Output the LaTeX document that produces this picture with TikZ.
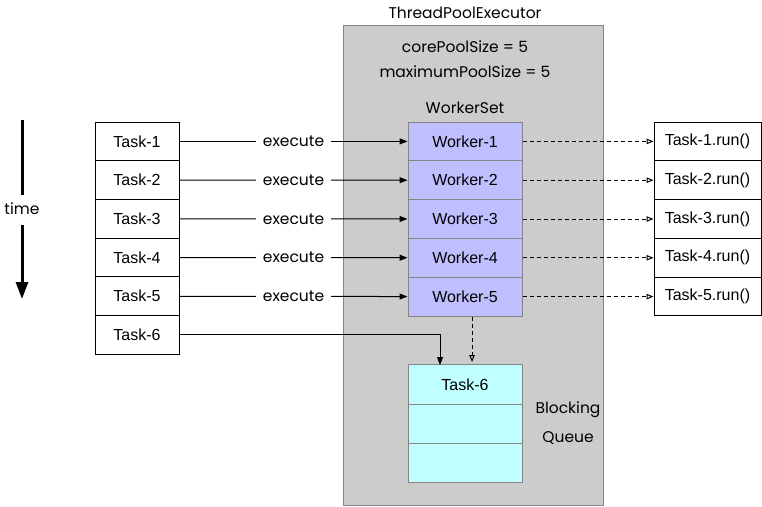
\documentclass[tikz,border=0pt]{standalone}
\usepackage{fontspec}
\setmainfont{Liberation Sans}
\newfontfamily\handfont{Poppins}
\usetikzlibrary{arrows.meta}
\definecolor{poolgray}{HTML}{CCCCCC}
\definecolor{edgegray}{HTML}{858585}
\definecolor{workerfill}{HTML}{BFBFFF}
\definecolor{queuefill}{HTML}{C0FFFF}
\tikzset{
  box/.style={draw=black, line width=1pt, fill=white, inner sep=0pt, minimum width=84pt, minimum height=38.7pt, font=\fontsize{16}{18}\selectfont},
  runbox/.style={box, minimum width=107pt},
  workerbox/.style={draw=edgegray, line width=1pt, fill=workerfill, inner sep=0pt, minimum width=114pt, minimum height=38.8pt, font=\fontsize{16}{18}\selectfont},
  queuebox/.style={workerbox, fill=queuefill, minimum height=39.3pt},
  hand/.style={inner sep=1pt, font=\handfont\fontsize{15.5}{18}\selectfont},
  arr/.style={draw=black, line width=1pt, -{Triangle[length=8pt,width=6pt]}},
  darr/.style={draw=black, line width=1pt, dash pattern=on 4pt off 3pt, -{Triangle[open,length=7pt,width=5.5pt]}},
}
\begin{document}
\begin{tikzpicture}[x=1pt,y=-1pt]
\useasboundingbox (0,0) rectangle (762,506);
% pool
\node[draw=edgegray, line width=1pt, fill=poolgray, minimum width=260pt, minimum height=480pt, inner sep=0pt] (pool) at (473,265) {};
\node[hand] (tpe) at (465,13) {ThreadPoolExecutor};
\node[hand] (core) at (465,47) {corePoolSize = 5};
\node[hand] (maxp) at (465,72) {maximumPoolSize = 5};
\node[hand] (wset) at (465,108) {WorkerSet};
% workers
\foreach \i/\y in {1/141.4,2/180.2,3/219,4/257.8,5/296.6}{
  \node[workerbox] (w\i) at (465,\y) {Worker-\i};
}
% queue
\node[queuebox] (q1) at (465,384.6) {Task-6};
\node[queuebox] (q2) at (465,423.9) {};
\node[queuebox] (q3) at (465,463.2) {};
\node[hand] (bq1) at (568,410) {Blocking};
\node[hand] (bq2) at (568,438) {Queue};
% tasks
\foreach \i/\y in {1/141.4,2/180.1,3/218.8,4/257.5,5/296.2,6/334.9}{
  \node[box] (t\i) at (137,\y) {Task-\i};
}
% runs
\foreach \i/\y in {1/141.4,2/180.2,3/219,4/257.8,5/296.6}{
  \node[runbox] (r\i) at (707.5,\y) {Task-\i.run()};
}
% execute arrows
\foreach \i in {1,...,5}{
  \draw[arr] (t\i) -- (w\i) node[midway, fill=white, hand, inner xsep=7pt, inner ysep=2pt] {execute};
  \draw[darr] (w\i) -- (r\i);
}
\coordinate (qin) at (440,365);
\draw[arr] (t6.east) -| (qin);
\coordinate (qd) at (472,362);
\draw[darr] (w5.south -| qd) -- (qd);
% time
\node[hand] (time) at (22,209) {time};
\coordinate (ts) at (22,120);
\coordinate (te1) at (22,195);
\coordinate (ts2) at (22,225);
\coordinate (te) at (22,299);
\draw[line width=3pt] (ts) -- (te1);
\draw[line width=3pt, -{Triangle[length=17pt,width=12pt]}] (ts2) -- (te);
\end{tikzpicture}
\end{document}
